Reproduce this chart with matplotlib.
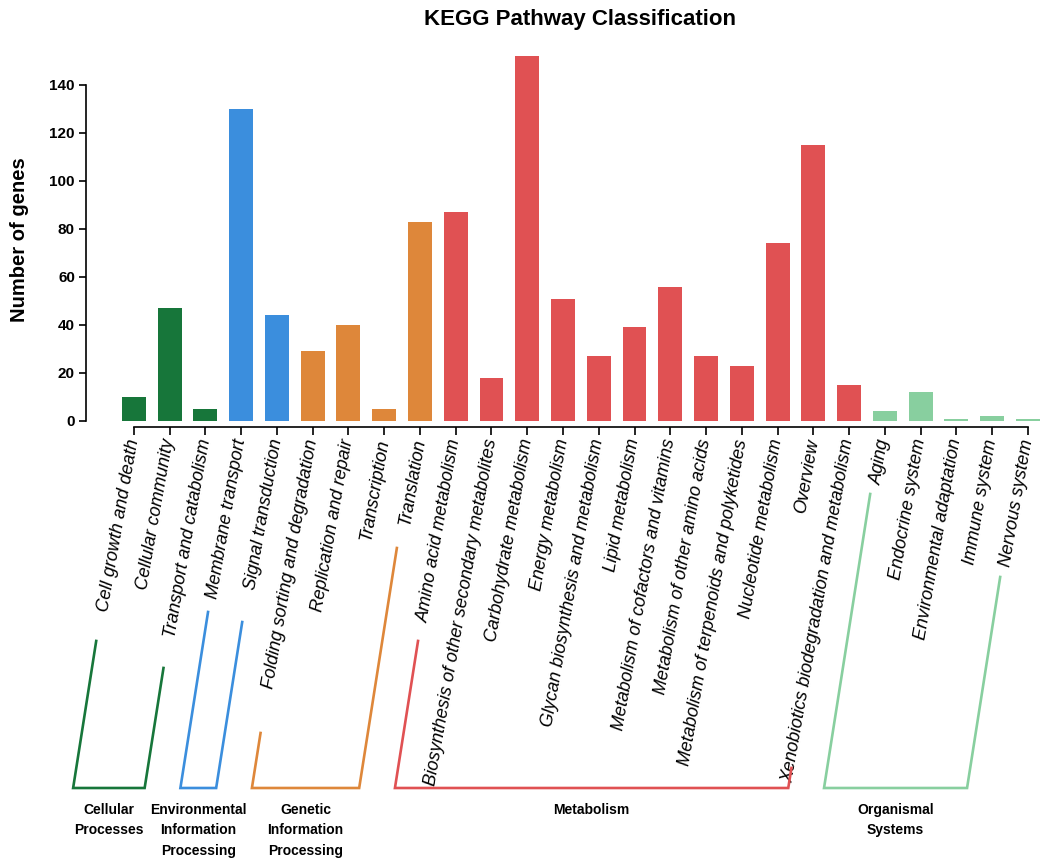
import matplotlib
matplotlib.use("Agg")
import matplotlib.pyplot as plt
from matplotlib.lines import Line2D

plt.rcParams['font.family'] = ['Liberation Sans', 'DejaVu Sans']

# Datos de la clasificación KEGG
categorias = [
    "Cell growth and death", "Cellular community", "Transport and catabolism",
    "Membrane transport", "Signal transduction",
    "Folding sorting and degradation", "Replication and repair", "Transcription", "Translation",
    "Amino acid metabolism", "Biosynthesis of other secondary metabolites",
    "Carbohydrate metabolism", "Energy metabolism", "Glycan biosynthesis and metabolism",
    "Lipid metabolism", "Metabolism of cofactors and vitamins",
    "Metabolism of other amino acids", "Metabolism of terpenoids and polyketides",
    "Nucleotide metabolism", "Overview", "Xenobiotics biodegradation and metabolism",
    "Aging", "Endocrine system", "Environmental adaptation", "Immune system", "Nervous system",
]
genes = [10, 47, 5,
         130, 44,
         29, 40, 5, 83,
         87, 18, 152, 51, 27, 39, 56, 27, 23, 74, 115, 15,
         4, 12, 1, 2, 1]

grupos = ["Cellular\nProcesses", "Environmental\nInformation\nProcessing",
          "Genetic\nInformation\nProcessing", "Metabolism", "Organismal\nSystems"]
inicio_grupo = [0, 3, 5, 9, 21]
fin_grupo = [2, 4, 8, 20, 25]
colores = ["#17763a", "#3b8edd", "#de873a", "#e05153", "#88cf9f"]

# altura (en fracción de figura) de los extremos superiores de cada corchete
tope_izq = [0.2547, 0.2884, 0.1477, 0.2547, 0.4256]
tope_der = [0.2233, 0.2767, 0.3628, 0.1070, 0.3291]

color_barra = []
for g in range(len(grupos)):
    color_barra += [colores[g]] * (fin_grupo[g] - inicio_grupo[g] + 1)

W, H = 1048, 860
fig = plt.figure(figsize=(W / 100, H / 100), dpi=100)
ax = fig.add_axes([86 / W, 1 - 421 / H, 954 / W, 384 / H])

x = range(len(categorias))
ax.bar(x, genes, width=0.67, color=color_barra)

ax.set_xlim(-1.34, 25.34)
ax.set_ylim(0, 160)

# los ejes primero: set_position reinicia los ticks
for s in ["top", "right"]:
    ax.spines[s].set_visible(False)
ax.spines["left"].set_bounds(0, 140)
ax.spines["bottom"].set_bounds(0, len(categorias) - 1)
ax.spines["bottom"].set_position(("outward", 4))
ax.spines["left"].set_linewidth(1.2)
ax.spines["bottom"].set_linewidth(1.2)

ax.set_yticks(range(0, 141, 20))
ax.set_yticklabels([str(v) for v in range(0, 141, 20)], fontweight="bold", fontsize=11)
ax.set_xticks(list(x))
ax.set_xticklabels(categorias, rotation=80, ha="right", va="center",
                   rotation_mode="anchor", fontstyle="italic", fontsize=13)
ax.tick_params(axis="y", length=5, width=1.2, pad=3)
ax.tick_params(axis="x", length=6, width=1.2, pad=3)

fig.text(580 / W, 1 - 20 / H, "KEGG Pathway Classification",
         fontsize=16, fontweight="bold", ha="center", va="center")
fig.text(20 / W, 1 - 240 / H, "Number of genes", fontsize=14.5,
         fontweight="bold", rotation=90, ha="center", va="center")

# Corchetes de cada grupo debajo de las etiquetas
base = 1 - 788 / H
pendiente = 0.157
for g in range(len(grupos)):
    xi = ax.transData.transform((inicio_grupo[g] - 1.7, 0))[0] / W
    xd = ax.transData.transform((fin_grupo[g] - 1.7, 0))[0] / W
    xi_top = xi + pendiente * (tope_izq[g] - base) * H / W
    xd_top = xd + pendiente * (tope_der[g] - base) * H / W
    fig.add_artist(Line2D([xi_top, xi, xd, xd_top], [tope_izq[g], base, base, tope_der[g]],
                          transform=fig.transFigure, color=colores[g], lw=1.9,
                          solid_joinstyle="miter"))
    fig.text((xi + xd) / 2, base - 0.017, grupos[g], ha="center", va="top",
             fontsize=10, fontweight="bold", linespacing=1.6)

fig.savefig("out.png", dpi=100)
